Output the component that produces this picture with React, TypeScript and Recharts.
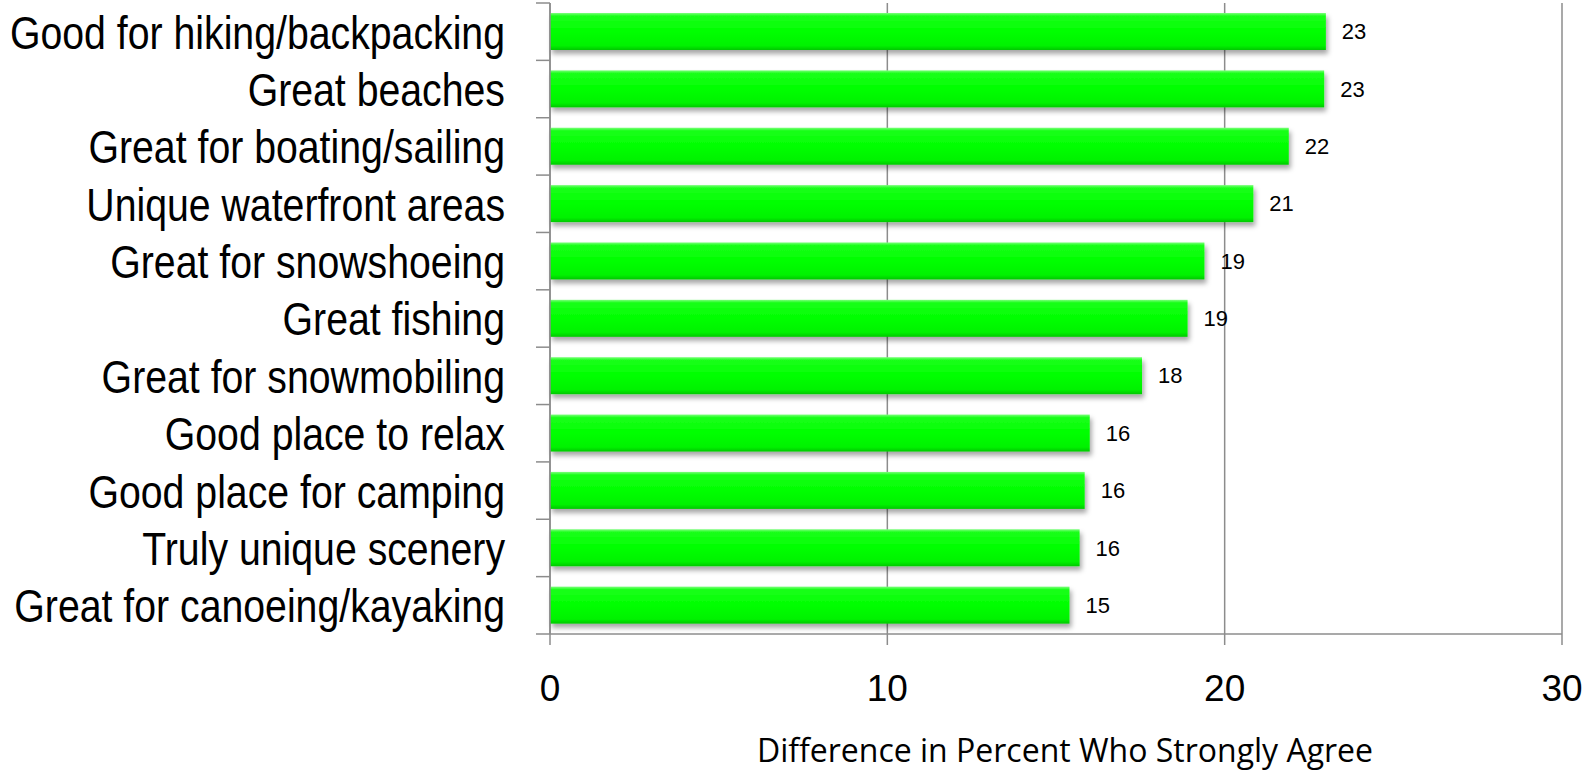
import React from 'react';
import { BarChart, Bar, XAxis, YAxis, CartesianGrid, LabelList } from 'recharts';

// categories, top to bottom as shown
const categories: string[] = [
  'Good for hiking/backpacking',
  'Great beaches',
  'Great for boating/sailing',
  'Unique waterfront areas',
  'Great for snowshoeing',
  'Great fishing',
  'Great for snowmobiling',
  'Good place to relax',
  'Good place for camping',
  'Truly unique scenery',
  'Great for canoeing/kayaking',
];

// bar lengths
const values: number[] = [23.0, 22.95, 21.9, 20.85, 19.4, 18.9, 17.55, 16.0, 15.85, 15.7, 15.4];

// numbers printed next to the bars
const shown: number[] = [23, 23, 22, 21, 19, 19, 18, 16, 16, 16, 15];

const xTicks: number[] = [0, 10, 20, 30];

const W = 1593;
const H = 770;
const PLOT_LEFT = 550;
const PLOT_TOP = 3;
const PLOT_BOTTOM = 634;
const BAND = (PLOT_BOTTOM - PLOT_TOP) / categories.length;
const AXIS_GRAY = '#8c8c8c';

const data = categories.map((name, i) => ({ name, value: values[i], shown: shown[i] }));

// category label, narrowed to look like the condensed face of the original
const CategoryTick = (props: any) => {
  const { y, payload, index } = props;
  const half = BAND / 2;
  return (
    <g>
      <line x1={PLOT_LEFT - 14} x2={PLOT_LEFT} y1={y - half} y2={y - half} stroke={AXIS_GRAY} strokeWidth={1.5} />
      {index === categories.length - 1 && (
        <line x1={PLOT_LEFT - 14} x2={PLOT_LEFT} y1={y + half} y2={y + half} stroke={AXIS_GRAY} strokeWidth={1.5} />
      )}
      <text
        transform={`translate(${PLOT_LEFT - 45},${y}) scale(0.835,1)`}
        dy="0.36em"
        textAnchor="end"
        fill="#000"
        fontFamily="'Liberation Sans', Arial, sans-serif"
        fontSize={47}
      >
        {payload.value}
      </text>
    </g>
  );
};

const ShadowBar = (props: any) => {
  const { x, y, width, height } = props;
  if (!width || width <= 0) return null;
  return <rect x={x} y={y} width={width} height={height} fill="url(#barGreen)" filter="url(#barShadow)" />;
};

const App: React.FC = () => {
  return (
    <div style={{ position: 'absolute', left: 0, top: 0, width: W, height: H, background: '#fff' }}>
      <BarChart
        width={W}
        height={H}
        data={data}
        layout="vertical"
        margin={{ top: PLOT_TOP, right: 31, bottom: 0, left: 0 }}
        barSize={37}
      >
        <defs>
          <linearGradient id="barGreen" x1="0" y1="0" x2="0" y2="1">
            <stop offset="0%" stopColor="#7dff7d" />
            <stop offset="8%" stopColor="#1aff1a" />
            <stop offset="50%" stopColor="#00ff00" />
            <stop offset="88%" stopColor="#00f200" />
            <stop offset="100%" stopColor="#00c800" />
          </linearGradient>
          <filter id="barShadow" x="-5%" y="-20%" width="115%" height="160%">
            <feDropShadow dx="2" dy="4" stdDeviation="2.5" floodColor="#000" floodOpacity="0.35" />
          </filter>
        </defs>
        <CartesianGrid horizontal={false} vertical stroke={AXIS_GRAY} strokeWidth={1.5} />
        <XAxis
          type="number"
          domain={[0, 30]}
          ticks={xTicks}
          interval={0}
          height={H - PLOT_BOTTOM}
          stroke={AXIS_GRAY}
          strokeWidth={1.5}
          tickSize={11}
          tickMargin={30}
          tick={{ fill: '#000', fontSize: 37, fontFamily: "'Liberation Sans', Arial, sans-serif" }}
          label={{
            value: 'Difference in Percent Who Strongly Agree',
            position: 'insideBottom',
            offset: 8,
            dx: 9,
            fill: '#000',
            fontSize: 32,
            fontFamily: "'Open Sans', sans-serif",
          }}
        />
        <YAxis
          type="category"
          dataKey="name"
          width={PLOT_LEFT}
          interval={0}
          stroke={AXIS_GRAY}
          strokeWidth={1.5}
          tickLine={false}
          tick={<CategoryTick />}
        />
        <Bar dataKey="value" shape={<ShadowBar />} isAnimationActive={false}>
          <LabelList
            dataKey="shown"
            position="right"
            offset={16}
            fill="#000"
            fontSize={22}
            fontFamily="'Liberation Sans', Arial, sans-serif"
          />
        </Bar>
      </BarChart>
    </div>
  );
};

export default App;
